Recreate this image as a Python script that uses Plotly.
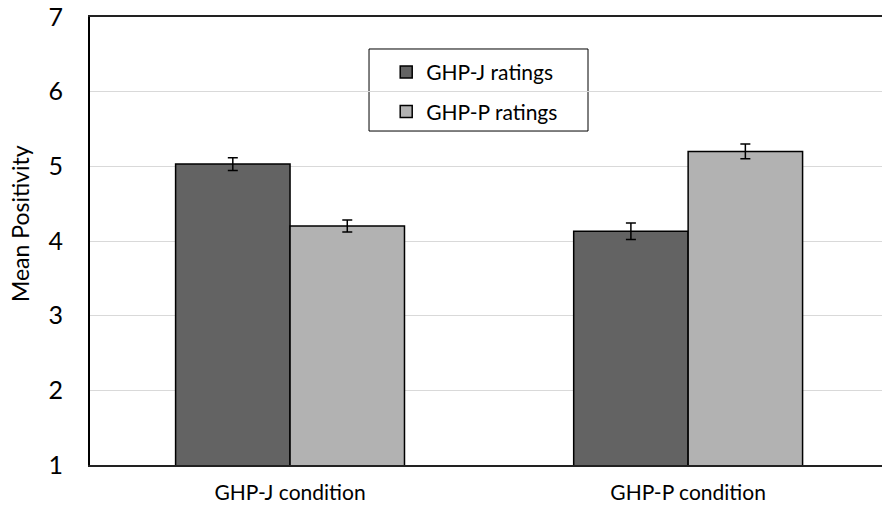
import plotly.graph_objects as go

categories = ["GHP-J condition", "GHP-P condition"]
ghpj_ratings = [5.03, 4.13]
ghpj_err = [0.085, 0.11]
ghpp_ratings = [4.20, 5.20]
ghpp_err = [0.08, 0.10]
yticks = [1, 2, 3, 4, 5, 6, 7]
y_title = "Mean Positivity"

font = "Lato, Open Sans, sans-serif"

fig = go.Figure()
fig.add_trace(go.Bar(
    name="GHP-J ratings", x=categories, y=ghpj_ratings, legendgroup="a",
    marker=dict(color="#636363", line=dict(color="black", width=1.5)),
    error_y=dict(type="data", array=ghpj_err, color="black", thickness=1.5, width=5),
))
fig.add_trace(go.Bar(
    name="GHP-P ratings", x=categories, y=ghpp_ratings, legendgroup="b",
    marker=dict(color="#b2b2b2", line=dict(color="black", width=1.5)),
    error_y=dict(type="data", array=ghpp_err, color="black", thickness=1.5, width=5),
))

fig.add_shape(type="rect", xref="paper", yref="paper",
              x0=0.3523, x1=0.6288, y0=0.7455, y1=0.9286,
              line=dict(color="black", width=1), fillcolor="white", layer="below")

fig.add_annotation(text=y_title, textangle=-90, xref="paper", yref="paper",
                   x=-0.0884, y=0.540, xanchor="center", yanchor="middle",
                   showarrow=False, font=dict(size=23, family=font, color="black"))

fig.update_layout(
    width=882, height=505,
    margin=dict(l=90, r=0, t=17, b=40),
    paper_bgcolor="white", plot_bgcolor="white",
    barmode="group", bargap=0.425, bargroupgap=0,
    font=dict(family=font, color="black"),
    showlegend=True,
    legend=dict(
        x=0.374, y=0.922, xanchor="left", yanchor="top",
        borderwidth=0, bgcolor="rgba(0,0,0,0)",
        font=dict(size=21, family=font), itemwidth=30,
        tracegroupgap=9,
    ),
    xaxis=dict(
        range=[-0.5025, 1.487], automargin=False,
        showline=True, linecolor="#222222", linewidth=1.5, mirror=True,
        showgrid=False, ticks="", tickfont=dict(size=21), ticklabelstandoff=8,
    ),
    yaxis=dict(
        range=[1, 7], tickvals=yticks, automargin=False,
        showline=True, linecolor="black", linewidth=2,
        showgrid=True, gridcolor="#d9d9d9", gridwidth=1, layer="below traces",
        ticks="", tickfont=dict(size=25), ticklabelstandoff=20,
        zeroline=False,
    ),
)

fig.write_html("out.html", config={"displayModeBar": False},
               post_script="document.body.style.margin='0';document.body.style.padding='0';")
